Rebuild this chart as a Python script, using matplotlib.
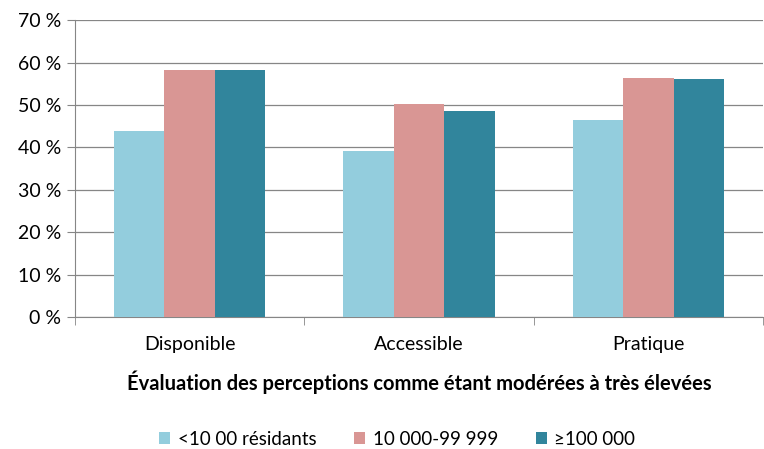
import matplotlib
matplotlib.use('Agg')
from matplotlib import pyplot as plt
import numpy as np

plt.rcParams['font.family'] = ['Lato', 'DejaVu Sans']

categories = ['Disponible', 'Accessible', 'Pratique']
series_names = ['<10 00 résidants', '10 000-99 999', '\u2265100 000']
small = [43.8, 39.1, 46.4]
medium = [58.2, 50.2, 56.3]
large = [58.2, 48.6, 56.1]
colors = ['#93CDDD', '#D99694', '#31859C']

fig = plt.figure(figsize=(7.64, 4.49), dpi=100)
ax = fig.add_axes([0.098, 0.294, 0.901, 0.661])

x = np.arange(len(categories))
w = 0.22
for i, (vals, name, c) in enumerate(zip([small, medium, large], series_names, colors)):
    ax.bar(x + (i - 1) * w, vals, width=w, color=c, label=name, zorder=3)

ax.set_xlim(-0.5, 2.5)
ax.set_ylim(0, 70)
ax.set_yticks(np.arange(0, 71, 10))
ax.set_yticklabels([f'{v} %' for v in range(0, 71, 10)], fontsize=14)
ax.yaxis.grid(True, color='#868686', linewidth=0.9, zorder=0)
ax.set_xticks(x)
ax.set_xticklabels(categories, fontsize=14)
ax.tick_params(axis='x', length=0, pad=14)
ax.tick_params(axis='y', length=6, color='#868686', pad=4)
ax.set_xticks([-0.5, 0.5, 1.5, 2.5], minor=True)
ax.tick_params(axis='x', which='minor', length=6, color='#868686')
for s in ['top', 'right']:
    ax.spines[s].set_visible(False)
for s in ['left', 'bottom']:
    ax.spines[s].set_color('#868686')
ax.set_xlabel('Évaluation des perceptions comme étant modérées à très élevées',
              fontsize=14.5, fontweight='bold', labelpad=12)

fig.legend(loc='lower center', bbox_to_anchor=(0.52, -0.035), ncol=3, frameon=False,
           fontsize=13.5, handlelength=0.6, handleheight=0.6, handletextpad=0.4,
           columnspacing=2.0)

plt.savefig('out.png', dpi=100, facecolor='white')
